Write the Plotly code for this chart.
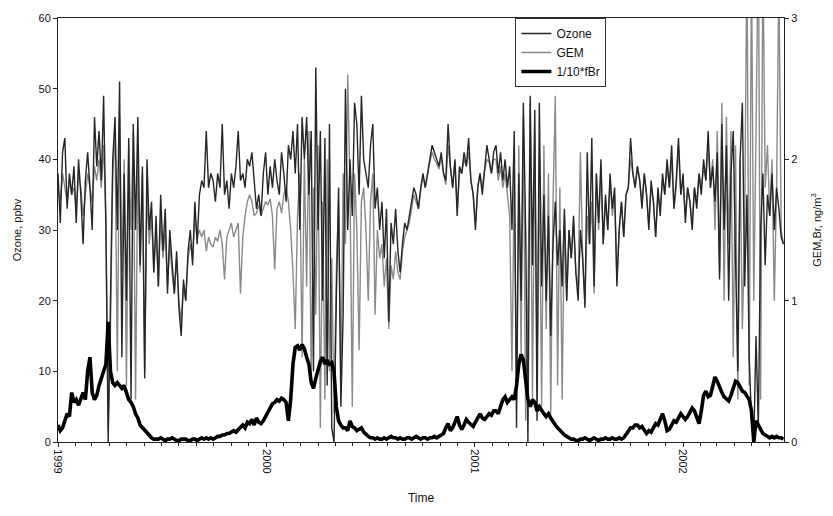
import pandas as pd
import plotly.graph_objects as go

# ---- data (sampled every 4 days from 1999-01-01) ----
start_date = "1999-01-01"
step_days = 4

ozone_ppbv = [
    # 1999 Jan - Sep
    38, 31, 41, 43, 33, 38, 35, 39, 31, 40,
    35, 28, 37, 41, 36, 30, 46, 39, 44, 37,
    49, 30, 0, 20, 40, 46, 30, 51, 12, 38,
    20, 43, 6, 45, 30, 46, 25, 39, 9, 40,
    30, 34, 24, 32, 22, 35, 27, 33, 21, 30,
    25, 21, 27, 19, 15, 23, 20, 27, 30, 25,
    34, 28, 35, 37, 36,
    # 1999 Sep - 2000 May
    44, 36, 38, 37, 34, 38, 36, 45, 35, 37,
    33, 38, 36, 39, 44, 37, 38, 36, 40, 39,
    41, 37, 33, 35, 32, 38, 41, 35, 39, 36,
    40, 37, 35, 41, 38, 34, 42, 40, 44, 38,
    45, 30, 46, 40, 46, 35, 44, 10, 53, 30,
    44, 20, 43, 8, 45, 2, 0, 20, 36, 5,
    18, 50, 30,
    # 2000 May - 2001 Jan
    40, 32, 48, 45, 35, 49, 40, 38, 36, 42,
    45, 33, 36, 30, 34, 26, 33, 17, 31, 28,
    33, 27, 24, 28, 31, 30, 32, 34, 36, 35,
    33, 36, 38, 36, 38, 40, 42, 41, 40, 39,
    41, 38, 37, 45, 39, 36, 40, 32, 39, 38,
    41, 39, 43, 37, 35, 30, 36, 38, 35, 39,
    42, 40, 38, 41,
    # 2001 Feb - Oct
    42, 38, 41, 37, 40, 36, 39, 30, 44, 2,
    38, 20, 48, 30, 0, 49, 25, 47, 3, 48,
    22, 35, 20, 32, 15, 28, 34, 25, 30, 22,
    33, 20, 30, 26, 32, 24, 20, 30, 26, 19,
    41, 28, 43, 22, 38, 31, 40, 28, 35, 30,
    38, 33, 36, 22, 30, 34, 29, 35, 36, 43,
    38, 36, 39,
    # 2001 Oct - 2002 Jun
    37, 33, 38, 35, 30, 37, 34, 29, 36, 32,
    38, 35, 40, 36, 42, 33, 37, 43, 35, 38,
    31, 36, 34, 30, 36, 33, 38, 35, 40, 37,
    44, 36, 39, 34, 41, 23, 45, 30, 42, 20,
    38, 44, 26, 10, 40, 48, 22, 35, 12, 3,
    0, 15, 2, 30, 38, 25, 35, 32, 38, 30,
    36, 33, 29, 28,
]

gem_ngm3 = [
    1.8, 1.7, 1.9, 1.8, 1.7, 1.85, 1.75, 1.8, 1.65, 1.9,
    1.8, 1.6, 1.75, 1.9, 1.8, 1.7, 1.95, 1.85, 2.0, 1.8,
    2.1, 1.6, 0.1, 0.8, 1.9, 2.2, 0.5, 2.3, 1.2, 2.0,
    0.4, 2.1, 1.5, 2.2, 0.3, 2.0, 1.2, 1.9, 0.5, 1.8,
    1.4, 1.6, 1.2, 1.5, 1.1, 1.6, 1.3, 1.5, 1.1, 1.4,
    1.2, 1.05, 1.3, 1.0, 0.85, 1.1, 1.0, 1.3, 1.4, 1.3,
    1.6, 1.45, 1.5, 1.45, 1.5,
    1.35, 1.45, 1.4, 1.38, 1.45, 1.42, 1.5, 1.4, 1.15, 1.45,
    1.5, 1.55, 1.45, 1.5, 1.55, 1.05, 1.45, 1.6, 1.7, 1.75,
    1.7, 1.6, 1.62, 1.68, 1.6, 1.65, 1.7, 1.68, 1.72, 1.6,
    1.22, 1.65, 1.7, 1.62, 1.75, 1.8, 1.7, 1.5, 1.2, 0.8,
    1.6, 1.9, 0.6, 2.0, 1.1, 2.2, 0.4, 1.8, 0.9, 2.1,
    0.1, 1.7, 0.3, 2.0, 0.5, 1.3, 0.2, 1.2, 1.7, 0.4,
    1.9, 1.4, 2.6,
    1.8, 0.25, 1.9, 1.5, 0.65, 1.7, 1.8, 1.5, 1.0, 1.7,
    1.9, 0.9, 1.5, 1.3, 1.4, 1.1, 1.3, 0.8, 1.25, 1.15,
    1.35, 1.2, 1.15, 1.35, 1.45, 1.5, 1.55, 1.65, 1.75, 1.7,
    1.65, 1.78, 1.88, 1.8, 1.9, 1.98, 2.05, 2.0, 1.97, 1.93,
    2.02, 1.9, 1.82, 2.1, 1.95, 1.8, 1.98, 1.65, 1.92, 1.9,
    2.0, 1.95, 2.05, 1.85, 1.75, 1.55, 1.8, 1.9, 1.8, 1.92,
    2.0, 1.98, 1.9, 2.0,
    2.0, 1.85, 1.95, 1.8, 1.9, 1.75, 1.6, 0.5, 1.9, 0.3,
    2.1, 0.6, 2.3, 0.15, 1.0, 2.4, 0.3, 2.2, 0.5, 2.0,
    0.25, 2.1, 0.8, 1.9, 0.2, 1.7, 2.45, 0.4, 1.8, 0.3,
    1.6, 1.0, 1.5, 1.3, 1.55, 1.2, 1.1, 2.05, 1.3, 1.0,
    1.6, 1.4, 1.7, 1.05, 1.9, 1.5, 1.95, 1.4, 1.7, 1.5,
    1.85, 1.6, 1.75, 1.15, 1.5, 1.7, 1.45, 1.75, 1.8, 2.0,
    1.9, 1.8, 1.95,
    1.85, 1.7, 1.9, 1.75, 1.55, 1.8, 1.7, 1.45, 1.75, 1.65,
    1.85, 1.75, 1.95, 1.8, 2.0, 1.65, 1.8, 2.1, 1.75, 1.85,
    1.6, 1.8, 1.7, 1.55, 1.8, 1.7, 1.9, 1.8, 1.95, 1.85,
    2.1, 1.8, 2.0, 1.5, 2.2, 1.2, 2.4, 1.0, 2.3, 1.4,
    2.2, 0.6, 2.1, 0.3, 2.0, 0.8, 1.5, 3.5, 0.4, 3.4,
    1.0, 2.2, 3.6, 0.3, 3.5, 1.8, 2.1, 1.6, 2.0, 1.0,
    1.8, 3.3, 1.5, 1.4,
]

br_tenth = [
    0.12, 0.08, 0.1, 0.15, 0.2, 0.18, 0.35, 0.28, 0.3, 0.26,
    0.3, 0.35, 0.3, 0.5, 0.6, 0.35, 0.3, 0.33, 0.4, 0.45,
    0.48, 0.55, 0.85, 0.5, 0.42, 0.4, 0.42, 0.4, 0.38, 0.4,
    0.35, 0.3, 0.28, 0.25, 0.2, 0.17, 0.12, 0.1, 0.08, 0.06,
    0.05, 0.03, 0.02, 0.02, 0.02, 0.03, 0.02, 0.01, 0.02, 0.02,
    0.03, 0.02, 0.01, 0.01, 0.02, 0.02, 0.02, 0.01, 0.01, 0.02,
    0.02, 0.01, 0.02, 0.03, 0.02,
    0.03, 0.02, 0.03, 0.02, 0.03, 0.04, 0.04, 0.05, 0.05, 0.06,
    0.06, 0.07, 0.08, 0.07, 0.09, 0.1, 0.12, 0.1, 0.14, 0.13,
    0.16, 0.12, 0.17, 0.14, 0.13, 0.15, 0.18, 0.2, 0.24, 0.27,
    0.28, 0.3, 0.29, 0.31, 0.3, 0.28, 0.15, 0.3, 0.55, 0.67,
    0.68, 0.65, 0.69, 0.66, 0.6, 0.55, 0.42, 0.38, 0.45, 0.52,
    0.57, 0.6, 0.55, 0.58, 0.55, 0.56, 0.5, 0.25, 0.15, 0.12,
    0.1, 0.1, 0.08,
    0.15, 0.11, 0.1, 0.08, 0.09, 0.1, 0.07, 0.05, 0.04, 0.03,
    0.03, 0.02, 0.03, 0.02, 0.02, 0.03, 0.02, 0.03, 0.04, 0.03,
    0.03, 0.02, 0.03, 0.02, 0.02, 0.03, 0.03, 0.02, 0.03, 0.04,
    0.03, 0.02, 0.03, 0.03, 0.02, 0.03, 0.03, 0.04, 0.03, 0.04,
    0.05, 0.06, 0.1, 0.13, 0.08, 0.1, 0.14, 0.18, 0.12, 0.09,
    0.12, 0.16, 0.14, 0.12, 0.11, 0.14, 0.17, 0.2, 0.17, 0.16,
    0.18, 0.2, 0.19, 0.22,
    0.22, 0.2, 0.25, 0.3, 0.32, 0.28, 0.3, 0.32, 0.3, 0.4,
    0.55, 0.62, 0.58, 0.45, 0.3, 0.25, 0.3, 0.28, 0.22, 0.25,
    0.22, 0.2, 0.18, 0.2, 0.17, 0.15, 0.12, 0.1, 0.08, 0.06,
    0.05, 0.04, 0.03, 0.02, 0.02, 0.01, 0.01, 0.02, 0.02, 0.03,
    0.02, 0.01, 0.02, 0.03, 0.02, 0.01, 0.02, 0.02, 0.03, 0.02,
    0.02, 0.03, 0.02, 0.02, 0.03, 0.02, 0.03, 0.05, 0.07, 0.1,
    0.1, 0.12, 0.12,
    0.1, 0.11, 0.09, 0.06, 0.08, 0.07, 0.1, 0.13, 0.12, 0.16,
    0.2, 0.15, 0.08, 0.09, 0.12, 0.15, 0.14, 0.17, 0.2, 0.18,
    0.16, 0.18, 0.21, 0.24, 0.22, 0.17, 0.13, 0.22, 0.33, 0.36,
    0.32, 0.33, 0.4, 0.46, 0.43, 0.38, 0.35, 0.32, 0.3, 0.29,
    0.33, 0.38, 0.43, 0.42, 0.39, 0.36, 0.35, 0.33, 0.3, 0.22,
    0.0, 0.15, 0.12, 0.08, 0.06, 0.05, 0.04, 0.03, 0.04, 0.03,
    0.04, 0.03, 0.03, 0.02,
]

year_ticks = ["1999-01-01", "2000-01-01", "2001-01-01", "2002-01-01"]
year_labels = ["1999", "2000", "2001", "2002"]
x_range = ["1999-01-01", "2002-06-27"]


def sample_dates(n):
    return pd.date_range(start_date, periods=n, freq=f"{step_days}D")


FONT = "Liberation Sans, Arial, sans-serif"

fig = go.Figure()
fig.add_trace(go.Scatter(
    x=sample_dates(len(gem_ngm3)), y=gem_ngm3, name="GEM", mode="lines",
    line=dict(color="#8a8a8a", width=1.4), yaxis="y", legendrank=2))
fig.add_trace(go.Scatter(
    x=sample_dates(len(ozone_ppbv)), y=ozone_ppbv, name="Ozone", mode="lines",
    line=dict(color="#262626", width=1.4), yaxis="y2", legendrank=1))
fig.add_trace(go.Scatter(
    x=sample_dates(len(br_tenth)), y=br_tenth, name="1/10*fBr", mode="lines",
    line=dict(color="#000000", width=3.6), yaxis="y3", legendrank=3))

axis_common = dict(showgrid=False, zeroline=False, showline=True,
                   linecolor="#222", linewidth=1, ticks="outside",
                   tickcolor="#222", ticklen=4,
                   tickfont=dict(family=FONT, size=11, color="#111"))

fig.update_layout(
    width=833, height=516,
    margin=dict(l=58, r=47, t=13, b=74),
    paper_bgcolor="white", plot_bgcolor="white",
    font=dict(family=FONT, size=11, color="#111"),
    showlegend=True,
    legend=dict(x=0.63, y=1.0, xanchor="left", yanchor="top",
                bgcolor="white", bordercolor="#333", borderwidth=1,
                font=dict(family=FONT, size=12, color="#111"),
                itemwidth=30, tracegroupgap=0),
    xaxis=dict(
        type="date", range=x_range, mirror=True,
        tickvals=year_ticks, ticktext=year_labels, tickangle=90,
        minor=dict(dtick="M1", ticks="outside", ticklen=3, tickcolor="#222"),
        title=dict(text="Time", font=dict(family=FONT, size=12, color="#111"), standoff=20),
        **axis_common),
    yaxis=dict(
        range=[0, 3], side="right", tickvals=[0, 1, 2, 3],
        title=dict(text="GEM,Br, ng/m<sup>3</sup>", font=dict(family=FONT, size=11, color="#111"), standoff=16),
        **axis_common),
    yaxis2=dict(
        range=[0, 60], side="left", overlaying="y", dtick=10,
        title=dict(text="Ozone, ppbv", font=dict(family=FONT, size=11, color="#111"), standoff=14),
        **axis_common),
    yaxis3=dict(range=[0, 3], overlaying="y", visible=False),
)

fig.write_html("out.html")
